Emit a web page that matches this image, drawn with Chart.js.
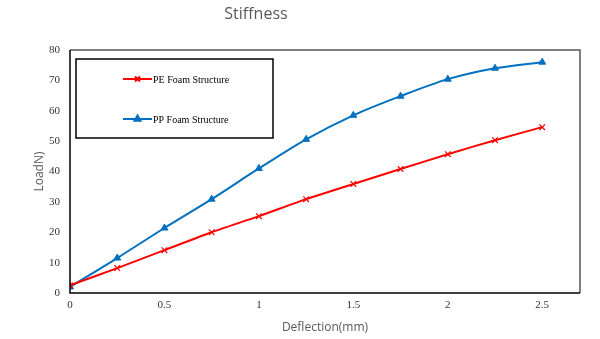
<!DOCTYPE html>
<html>
<head>
<meta charset="utf-8">
<script src="https://cdn.jsdelivr.net/npm/chart.js@4/dist/chart.umd.min.js"></script>
<style>
  html, body { margin: 0; padding: 0; background: #fff; }
  #wrap { width: 600px; height: 339px; position: relative; }
</style>
</head>
<body>
<div id="wrap"><canvas id="chart"></canvas></div>
<script>
// deflection (mm) and load (N) for the two foam structures
const deflection = [0, 0.25, 0.5, 0.75, 1, 1.25, 1.5, 1.75, 2, 2.25, 2.5];
const peLoad = [2.5, 8.2, 14.1, 20, 25.3, 30.9, 35.9, 40.8, 45.7, 50.3, 54.6];
const ppLoad = [2, 11.5, 21.4, 30.9, 41, 50.6, 58.5, 64.8, 70.4, 74, 76];
const seriesNames = ['PE Foam Structure', 'PP Foam Structure'];
const seriesColors = ['#ff0000', '#0070c0'];
const seriesMarkers = ['crossRot', 'triangle'];

const serif = '"Liberation Serif", "Times New Roman", serif';
const sans = '"Open Sans", "Noto Sans", sans-serif';

const toPoints = (ys) => deflection.map((x, i) => ({ x, y: ys[i] }));

// frame, title and boxed legend inside the plot
const decor = {
  id: 'decor',
  afterDraw(chart) {
    const { ctx, chartArea: a } = chart;
    ctx.save();
    // right/top border grey, left/bottom axis black
    ctx.strokeStyle = '#555';
    ctx.lineWidth = 1.5;
    ctx.beginPath();
    ctx.moveTo(a.left, a.top);
    ctx.lineTo(a.right, a.top);
    ctx.lineTo(a.right, a.bottom);
    ctx.stroke();
    ctx.strokeStyle = '#000';
    ctx.beginPath();
    ctx.moveTo(a.left, a.top);
    ctx.lineTo(a.left, a.bottom);
    ctx.lineTo(a.right, a.bottom);
    ctx.stroke();

    // title
    ctx.fillStyle = '#595959';
    ctx.font = '16px ' + sans;
    ctx.textAlign = 'center';
    ctx.textBaseline = 'middle';
    ctx.fillText('Stiffness', 256, 14);

    // legend box
    const bx = a.left + 6, by = a.top + 9, bw = 197, bh = 79;
    ctx.strokeStyle = '#000';
    ctx.lineWidth = 1.5;
    ctx.strokeRect(bx, by, bw, bh);
    const rows = [by + 20, by + 60];
    ctx.font = '10px ' + serif;
    ctx.textAlign = 'left';
    rows.forEach((ry, i) => {
      const x0 = bx + 47, x1 = bx + 76;
      ctx.strokeStyle = seriesColors[i];
      ctx.lineWidth = 2;
      ctx.beginPath();
      ctx.moveTo(x0, ry);
      ctx.lineTo(x1, ry);
      ctx.stroke();
      Chart.helpers.drawPoint(ctx, {
        pointStyle: seriesMarkers[i], radius: 3.5, borderWidth: 1.5, rotation: 0
      }, (x0 + x1) / 2, ry);
      ctx.fillStyle = seriesColors[i];
      ctx.fill();
      ctx.fillStyle = '#000';
      ctx.fillText(seriesNames[i], x1 + 1, ry + 1);
    });
    ctx.restore();
  }
};

new Chart(document.getElementById('chart'), {
  type: 'line',
  data: {
    datasets: [
      {
        label: seriesNames[0],
        data: toPoints(peLoad),
        borderColor: seriesColors[0],
        backgroundColor: seriesColors[0],
        borderWidth: 2,
        pointStyle: seriesMarkers[0],
        pointRadius: 4,
        pointBorderWidth: 1.2,
        tension: 0.2,
      },
      {
        label: seriesNames[1],
        data: toPoints(ppLoad),
        borderColor: seriesColors[1],
        backgroundColor: seriesColors[1],
        borderWidth: 2,
        pointStyle: seriesMarkers[1],
        pointRadius: 4,
        pointBorderWidth: 1,
        tension: 0.3,
      },
    ],
  },
  options: {
    responsive: true,
    maintainAspectRatio: false,
    animation: false,
    layout: { padding: { top: 50, right: 20, left: 28, bottom: 0 } },
    plugins: { legend: { display: false }, tooltip: { enabled: false } },
    scales: {
      x: {
        type: 'linear',
        min: 0,
        max: 2.7,
        border: { display: false },
        grid: { display: false },
        ticks: {
          stepSize: 0.5,
          includeBounds: false,
          color: '#333',
          font: { family: serif, size: 11 },
          padding: -2,
          callback: (v) => String(v),
        },
        title: {
          display: true,
          text: 'Deflection(mm)',
          color: '#595959',
          font: { family: sans, size: 12 },
          padding: { top: 6 },
        },
        afterFit(scale) { scale.height = 46; },
      },
      y: {
        min: 0,
        max: 80,
        border: { display: false },
        grid: { display: false },
        ticks: {
          stepSize: 10,
          color: '#333',
          font: { family: serif, size: 11 },
          padding: 2,
        },
        title: {
          display: true,
          text: 'LoadN)',
          color: '#595959',
          font: { family: sans, size: 12 },
        },
        afterFit(scale) { scale.width = 42; },
      },
    },
  },
  plugins: [decor],
});
</script>
</body>
</html>
